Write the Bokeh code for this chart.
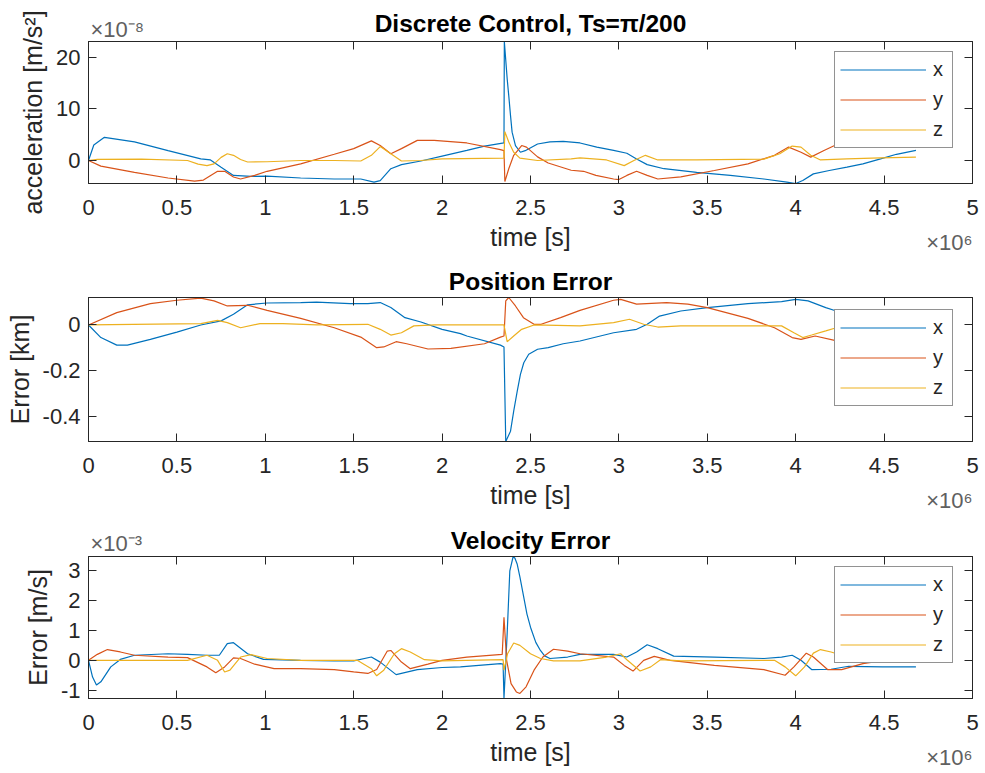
from bokeh.plotting import figure
from bokeh.layouts import column
from bokeh.models import Range1d, LinearAxis, FixedTicker, Legend, LegendItem, Title
from bokeh.embed import file_html
from bokeh.resources import INLINE

FONT = "Liberation Sans"
INK = "#262626"
EXP_INK = "#606060"
BLUE, RED, YELLOW = "#0072BD", "#D95319", "#EDB120"

# time axis, in units of 1e6 s
time_ticks = [0, 0.5, 1, 1.5, 2, 2.5, 3, 3.5, 4, 4.5, 5]
time_tick_labels = ["0", "0.5", "1", "1.5", "2", "2.5", "3", "3.5", "4", "4.5", "5"]

acc_ticks = [0, 10, 20]
acc_tick_labels = ["0", "10", "20"]
pos_ticks = [-0.4, -0.2, 0]
pos_tick_labels = ["-0.4", "-0.2", "0"]
vel_ticks = [-1, 0, 1, 2, 3]
vel_tick_labels = ["-1", "0", "1", "2", "3"]

# control acceleration, (t [1e6 s], a [1e-8 m/s^2])
acc_x = [(0, 0), (0.03, 3.0), (0.09, 4.5), (0.26, 3.6), (0.45, 1.9), (0.635, 0.3), (0.69, 0.1),
         (0.75, -1.3), (0.82, -2.9), (0.92, -3.1), (1.01, -3.05), (1.2, -3.4), (1.39, -3.6),
         (1.54, -3.6), (1.615, -4.2), (1.65, -3.9), (1.71, -1.6), (1.77, -0.8), (1.88, -0.1),
         (2.0, 0.85), (2.14, 1.95), (2.24, 2.8), (2.35, 3.4), (2.352, 23.1), (2.368, 15.9),
         (2.377, 12.6), (2.387, 8.7), (2.396, 5.5), (2.415, 2.9), (2.443, 1.6), (2.47, 1.9),
         (2.54, 3.2), (2.61, 3.6), (2.685, 3.7), (2.78, 3.4), (2.875, 2.6), (2.97, 1.95),
         (3.045, 1.4), (3.1, 0.3), (3.16, -0.8), (3.255, -1.6), (3.44, -2.3), (3.63, -2.9),
         (3.82, -3.6), (3.95, -4.2), (4.0, -4.47), (4.04, -3.9), (4.1, -2.6), (4.19, -1.95),
         (4.29, -1.3), (4.38, -0.65), (4.48, 0.3), (4.57, 1.2), (4.68, 1.95)]
acc_y = [(0, 0), (0.07, -1.1), (0.26, -2.3), (0.45, -3.4), (0.6, -4.0), (0.65, -3.8), (0.73, -2.1),
         (0.77, -2.1), (0.82, -3.2), (0.86, -3.6), (0.94, -2.9), (1.01, -2.1), (1.2, -0.65),
         (1.39, 1.2), (1.5, 2.3), (1.6, 3.8), (1.65, 2.9), (1.71, 1.3), (1.77, 2.3), (1.86, 3.9),
         (1.955, 3.9), (2.14, 3.4), (2.33, 2.1), (2.35, 1.9), (2.355, -4.1), (2.377, -1.6),
         (2.405, 1.0), (2.45, 2.9), (2.477, 2.6), (2.54, 0.7), (2.6, -0.5), (2.73, -1.9),
         (2.8, -2.1), (2.87, -2.9), (2.97, -3.6), (3.0, -3.7), (3.045, -2.9), (3.1, -2.1),
         (3.16, -2.9), (3.22, -3.6), (3.35, -3.2), (3.54, -1.95), (3.73, -0.65), (3.88, 1.0),
         (3.96, 2.6), (4.03, 1.6), (4.085, 0.65), (4.16, 1.95), (4.22, 2.9), (4.35, 3.4),
         (4.5, 3.2), (4.68, 3.0)]
acc_z = [(0, 0), (0.05, 0.2), (0.3, 0.25), (0.56, 0), (0.62, -0.7), (0.67, -1.0), (0.71, -0.65),
         (0.75, 0.6), (0.785, 1.3), (0.82, 1.0), (0.86, 0.2), (0.9, -0.3), (1.01, -0.25), (1.2, 0),
         (1.39, 0), (1.54, -0.1), (1.6, 1.0), (1.65, 2.7), (1.71, 1.3), (1.77, -0.1), (1.88, 0),
         (2.0, 0.3), (2.35, 0.45), (2.355, 5.6), (2.377, 3.6), (2.405, 1.6), (2.44, 0.45),
         (2.54, 0), (2.73, 0.3), (2.78, 0.5), (2.93, 0.1), (3.03, -1.0), (3.085, 0), (3.15, 1.0),
         (3.22, 0.1), (3.44, 0.1), (3.82, 0.25), (3.91, 1.3), (3.98, 2.8), (4.03, 2.6),
         (4.085, 1.0), (4.14, 0.1), (4.29, 0.3), (4.48, 0.5), (4.68, 0.65)]

# position error, (t [1e6 s], e [km])
pos_x = [(0, 0), (0.07, -0.055), (0.16, -0.088), (0.22, -0.088), (0.35, -0.063), (0.5, -0.031),
         (0.635, 0), (0.75, 0.018), (0.82, 0.047), (0.9, 0.088), (1.01, 0.096), (1.2, 0.098),
         (1.29, 0.1), (1.48, 0.093), (1.58, 0.093), (1.65, 0.098), (1.71, 0.076), (1.79, 0.032),
         (1.88, 0.013), (2.0, -0.019), (2.104, -0.038), (2.14, -0.048), (2.33, -0.088),
         (2.35, -0.096), (2.36, -0.509), (2.387, -0.464), (2.405, -0.376), (2.425, -0.289),
         (2.443, -0.216), (2.462, -0.165), (2.49, -0.128), (2.54, -0.106), (2.6, -0.099),
         (2.685, -0.082), (2.78, -0.07), (2.97, -0.034), (3.1, -0.019), (3.16, 0.003),
         (3.23, 0.039), (3.35, 0.061), (3.5, 0.076), (3.73, 0.093), (3.92, 0.102), (4.0, 0.112),
         (4.07, 0.105), (4.17, 0.076), (4.23, 0.061), (4.4, 0.03), (4.68, 0.0)]
pos_y = [(0, 0), (0.16, 0.054), (0.35, 0.093), (0.5, 0.108), (0.635, 0.117), (0.71, 0.105),
         (0.785, 0.083), (0.9, 0.086), (1.01, 0.064), (1.2, 0.029), (1.39, -0.012), (1.54, -0.053),
         (1.63, -0.099), (1.67, -0.096), (1.74, -0.073), (1.8, -0.082), (1.92, -0.105),
         (2.05, -0.102), (2.24, -0.082), (2.33, -0.053), (2.35, -0.048), (2.36, 0.105),
         (2.377, 0.12), (2.415, 0.083), (2.46, 0.032), (2.52, 0.003), (2.56, 0.003), (2.67, 0.032),
         (2.78, 0.064), (2.97, 0.108), (3.01, 0.112), (3.1, 0.091), (3.27, 0.098), (3.39, 0.091),
         (3.5, 0.076), (3.73, 0.029), (3.88, -0.012), (3.98, -0.055), (4.03, -0.063),
         (4.11, -0.048), (4.22, -0.067), (4.4, -0.08), (4.68, -0.09)]
pos_z = [(0, 0), (0.635, 0.006), (0.73, 0.02), (0.785, 0.01), (0.86, -0.012), (0.97, 0.006),
         (1.1, 0.006), (1.29, 0), (1.58, 0.003), (1.65, -0.019), (1.71, -0.044), (1.77, -0.034),
         (1.84, -0.004), (1.96, 0), (2.35, 0), (2.368, -0.073), (2.405, -0.048), (2.45, -0.019),
         (2.52, 0), (2.78, -0.004), (2.97, 0.01), (3.06, 0.025), (3.14, 0.003), (3.22, -0.009),
         (3.35, -0.004), (3.92, -0.004), (3.99, -0.034), (4.04, -0.055), (4.09, -0.044),
         (4.17, -0.026), (4.23, -0.012), (4.4, -0.005), (4.68, 0)]

# velocity error, (t [1e6 s], e [1e-3 m/s])
vel_x = [(0, 0), (0.023, -0.56), (0.045, -0.83), (0.07, -0.72), (0.126, -0.22), (0.18, 0.03),
         (0.26, 0.17), (0.45, 0.22), (0.56, 0.2), (0.67, 0.17), (0.74, 0.17), (0.785, 0.56),
         (0.82, 0.59), (0.9, 0.22), (0.99, 0.03), (1.2, 0), (1.39, -0.02), (1.5, -0.02),
         (1.6, 0.11), (1.65, -0.06), (1.74, -0.48), (1.86, -0.31), (2.0, -0.24), (2.104, -0.22),
         (2.33, -0.11), (2.345, -0.13), (2.35, -1.28), (2.368, 0.89), (2.383, 3.0), (2.402, 3.48),
         (2.412, 3.42), (2.425, 3.22), (2.44, 2.8), (2.462, 2.11), (2.48, 1.55), (2.5, 1.11),
         (2.53, 0.6), (2.556, 0.33), (2.58, 0.15), (2.61, 0.06), (2.71, 0.11), (2.78, 0.2),
         (2.97, 0.2), (3.045, 0.11), (3.1, 0.28), (3.16, 0.52), (3.22, 0.39), (3.31, 0.14),
         (3.54, 0.11), (3.82, 0.06), (3.92, 0.11), (3.98, 0.17), (4.03, 0), (4.09, -0.31),
         (4.2, -0.3), (4.3, -0.2), (4.49, -0.22), (4.68, -0.22)]
vel_y = [(0, 0), (0.05, 0.2), (0.107, 0.36), (0.18, 0.28), (0.26, 0.17), (0.45, 0.11), (0.56, 0.09),
         (0.67, -0.22), (0.72, -0.42), (0.77, -0.22), (0.82, 0.08), (0.86, 0.06), (0.94, -0.13),
         (1.05, -0.28), (1.2, -0.28), (1.39, -0.31), (1.5, -0.39), (1.58, -0.44), (1.63, -0.31),
         (1.69, 0.31), (1.71, 0.33), (1.77, -0.06), (1.82, -0.28), (1.92, -0.13), (2.0, 0),
         (2.14, 0.11), (2.34, 0.2), (2.35, 1.44), (2.365, 0.0), (2.39, -0.78), (2.42, -1.06),
         (2.44, -1.11), (2.475, -0.89), (2.52, -0.33), (2.57, 0.11), (2.63, 0.37), (2.71, 0.31),
         (2.78, 0.22), (2.97, 0.11), (3.03, -0.17), (3.08, -0.36), (3.14, 0), (3.2, 0.13),
         (3.29, 0), (3.54, -0.17), (3.82, -0.31), (3.94, -0.5), (3.99, -0.22), (4.06, 0.24),
         (4.1, 0.11), (4.18, -0.31), (4.26, -0.31), (4.38, -0.11), (4.5, 0.0), (4.68, 0.05)]
vel_z = [(0, 0), (0.56, 0), (0.67, 0.17), (0.73, 0), (0.77, -0.39), (0.8, -0.33), (0.86, 0.11),
         (0.92, 0.19), (1.01, 0.06), (1.2, 0), (1.52, 0), (1.6, -0.28), (1.63, -0.52),
         (1.67, -0.33), (1.73, 0.22), (1.77, 0.39), (1.82, 0.28), (1.9, 0.02), (2.0, -0.02),
         (2.345, 0.02), (2.35, -0.33), (2.37, 0.22), (2.405, 0.58), (2.44, 0.5), (2.5, 0.22),
         (2.556, 0.06), (2.63, -0.02), (2.78, -0.02), (2.93, 0.11), (3.01, 0.22), (3.045, 0.02),
         (3.12, -0.36), (3.18, -0.22), (3.235, 0.02), (3.35, -0.02), (3.88, 0), (3.94, -0.22),
         (4.0, -0.52), (4.05, -0.22), (4.1, 0.24), (4.14, 0.36), (4.2, 0.28), (4.3, 0.1),
         (4.5, 0.02), (4.68, 0)]

series_names = ["x", "y", "z"]
series_colors = [BLUE, RED, YELLOW]

TICK_PX = "22px"
LABEL_PX = "25px"
TITLE_PX = "24.5px"
EXP_PX = "22px"


def style_axis(ax, ticks, labels, show_labels=True):
    ax.ticker = FixedTicker(ticks=ticks)
    ax.major_label_overrides = {t: s for t, s in zip(ticks, labels)}
    ax.major_tick_in = 8
    ax.major_tick_out = 0
    ax.minor_tick_in = 0
    ax.minor_tick_out = 0
    ax.axis_line_color = INK
    ax.major_tick_line_color = INK
    ax.major_label_text_color = INK
    ax.major_label_text_font = FONT
    ax.axis_label_text_font = FONT
    ax.axis_label_text_font_style = "normal"
    ax.axis_label_text_color = INK
    ax.axis_label_text_font_size = LABEL_PX
    if show_labels:
        ax.major_label_text_font_size = TICK_PX
    else:
        ax.major_label_text_font_size = "0px"
        ax.major_label_text_alpha = 0
        ax.major_label_standoff = 0


def title_obj(text, size, align="left", bold=False, color=INK, standoff=0, offset=0,
              vertical_align="bottom"):
    return Title(text=text, align=align, vertical_align=vertical_align, offset=offset,
                 standoff=standoff, text_font=FONT, text_font_size=size, text_color=color,
                 text_font_style="bold" if bold else "normal")


def panel(title, ylabel, series, yticks, ytick_labels, height, top, bottom,
          exponent=None, exp_standoff=0, title_standoff=4):
    values = [v for s in series for _, v in s]
    p = figure(width=985, height=height, x_range=Range1d(0, 5),
               y_range=Range1d(min(values), max(values)),
               output_backend="svg", toolbar_location=None,
               min_border_left=88, min_border_right=13,
               min_border_top=top, min_border_bottom=bottom,
               background_fill_color="white", border_fill_color="white",
               outline_line_color=INK)
    p.xgrid.visible = False
    p.ygrid.visible = False

    style_axis(p.xaxis[0], time_ticks, time_tick_labels)
    p.xaxis[0].major_label_standoff = 16
    p.xaxis[0].axis_label = "time [s]"
    p.xaxis[0].axis_label_standoff = 5
    style_axis(p.yaxis[0], yticks, ytick_labels)
    p.yaxis[0].major_label_standoff = 8
    p.yaxis[0].axis_label = ylabel
    p.yaxis[0].axis_label_standoff = 6

    top_ax = LinearAxis()
    style_axis(top_ax, time_ticks, time_tick_labels, show_labels=False)
    p.add_layout(top_ax, "above")
    right_ax = LinearAxis()
    style_axis(right_ax, yticks, ytick_labels, show_labels=False)
    p.add_layout(right_ax, "right")

    # axis multipliers and title
    if exponent is not None:
        p.add_layout(title_obj("\u00d710" + exponent, EXP_PX, color=EXP_INK,
                               standoff=exp_standoff, offset=2), "above")
    p.add_layout(title_obj(title, TITLE_PX, align="center", bold=True, color="black",
                           standoff=title_standoff), "above")
    p.add_layout(title_obj("\u00d710\u2076", EXP_PX, align="right", color=EXP_INK,
                           standoff=-48, vertical_align="top"), "below")

    items = []
    for name, color, pts in zip(series_names, series_colors, series):
        r = p.line([t for t, _ in pts], [v for _, v in pts], line_color=color, line_width=1.2)
        items.append(LegendItem(label=name, renderers=[r]))

    legend = Legend(items=items, location=(746, 35), padding=5, spacing=5,
                    glyph_width=86, glyph_height=25, label_standoff=7, label_width=14,
                    label_text_font=FONT, label_text_font_size="20px", label_text_color=INK,
                    border_line_color=INK, border_line_width=1,
                    background_fill_color="white", background_fill_alpha=1.0, margin=0)
    p.add_layout(legend)
    return p


p1 = panel("Discrete Control, Ts=\u03c0/200", "acceleration [m/s\u00b2]", [acc_x, acc_y, acc_z],
           acc_ticks, acc_tick_labels, 258, 41, 75,
           exponent="\u207b\u2078", exp_standoff=0, title_standoff=-44)
p2 = panel("Position Error", "Error [km]", [pos_x, pos_y, pos_z],
           pos_ticks, pos_tick_labels, 257, 39, 74, title_standoff=6)
p3 = panel("Velocity Error", "Error [m/s]", [vel_x, vel_y, vel_z],
           vel_ticks, vel_tick_labels, 258, 41, 75,
           exponent="\u207b\u00b3", exp_standoff=1, title_standoff=-50)

layout = column(p1, p2, p3, spacing=0)
open("out.html", "w").write(file_html(layout, INLINE))
